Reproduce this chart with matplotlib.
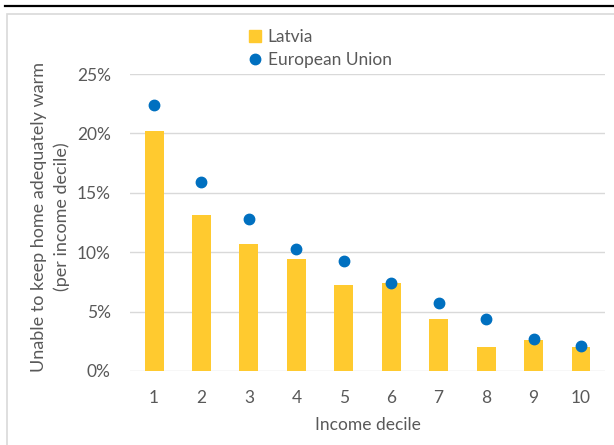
import matplotlib.pyplot as plt
from matplotlib.patches import Rectangle
from matplotlib.lines import Line2D
from matplotlib.ticker import PercentFormatter

deciles = [1, 2, 3, 4, 5, 6, 7, 8, 9, 10]
latvia = [20.2, 13.1, 10.7, 9.4, 7.2, 7.4, 4.4, 2.0, 2.6, 2.0]
eu = [22.4, 15.9, 12.8, 10.3, 9.3, 7.4, 5.7, 4.4, 2.7, 2.1]

txt = "#595959"
plt.rcParams['font.family'] = ['Lato', 'DejaVu Sans']
plt.rcParams['font.size'] = 11

fig = plt.figure(figsize=(6.14, 4.45), dpi=100)
ax = fig.add_axes([0.2122, 0.1663, 0.7727, 0.6674])

# frame around the chart + black rule on top
fig.add_artist(Rectangle((7 / 614, -0.05), 1.0, 1 - 14 / 445 + 0.05, transform=fig.transFigure,
                         fill=False, edgecolor="#D9D9D9", linewidth=1.2))
fig.add_artist(Line2D([5 / 614, 1], [1 - 6 / 445, 1 - 6 / 445], transform=fig.transFigure,
                      color="black", linewidth=1.6))

ax.bar(deciles, latvia, width=0.4, color="#FFCA2F", zorder=2, label="Latvia")
ax.plot(deciles, eu, "o", color="#0070C0", markersize=7.5, zorder=3, label="European Union")

ax.set_xlim(0.5, 10.5)
ax.set_ylim(0, 25)
ax.set_yticks([0, 5, 10, 15, 20, 25])
ax.yaxis.set_major_formatter(PercentFormatter(decimals=0))
ax.set_xticks(deciles)
ax.grid(axis="y", color="#D9D9D9", linewidth=1)
ax.set_axisbelow(True)
for s in ax.spines.values():
    s.set_visible(False)
ax.tick_params(length=0, colors=txt, labelsize=12.5)
ax.tick_params(axis="y", pad=14)
ax.tick_params(axis="x", pad=14)

ax.set_xlabel("Income decile", color=txt, fontsize=12.5)
ax.xaxis.set_label_coords(0.5, -0.155)
ax.set_ylabel("Unable to keep home adequately warm\n(per income decile)", color=txt,
              fontsize=13, linespacing=1.45)
ax.yaxis.set_label_coords(-0.127, 0.52)

handles = [Rectangle((0, 0), 1, 1, color="#FFCA2F"),
           Line2D([], [], marker="o", linestyle="", color="#0070C0", markersize=7.5)]
fig.legend(handles, ["Latvia", "European Union"], loc="upper left",
           bbox_to_anchor=(240 / 614, 1 - 20 / 445), frameon=False, fontsize=12.5,
           labelcolor=txt, handlelength=0.7, handleheight=0.7, handletextpad=0.4,
           labelspacing=0.45, borderpad=0)

fig.savefig("out.png", dpi=100)
